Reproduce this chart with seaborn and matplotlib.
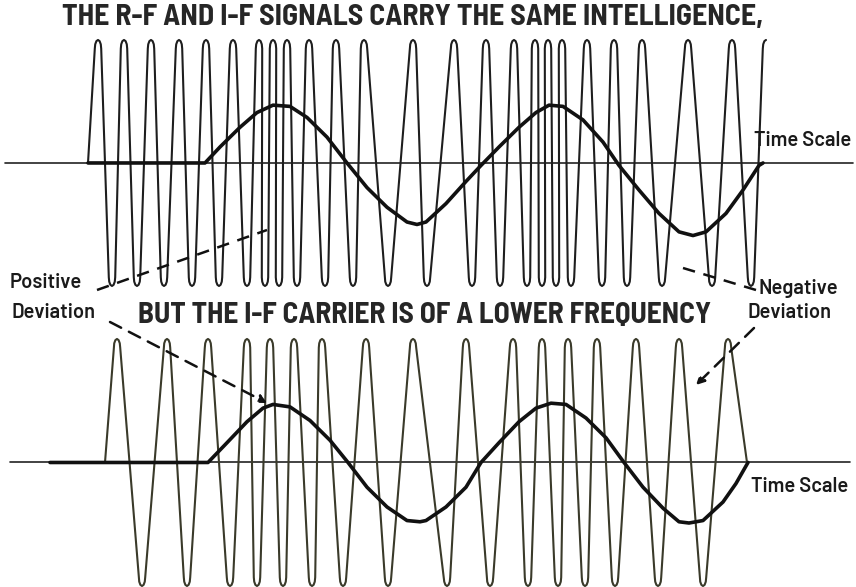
import numpy as np
import pandas as pd
import seaborn as sns
import matplotlib.pyplot as plt

# r-f carrier (top): times of the crests and troughs
rf_start = 88
rf_crests = [98, 124, 151, 179, 206, 233, 259, 273, 287, 309, 336, 364, 413,
             454, 486, 514, 535, 548, 562, 587, 614, 642, 688, 732, 766]
rf_troughs = [112, 137, 164, 192, 219, 247, 265, 279, 297, 325, 353, 388,
              427, 472, 500, 527, 542, 556, 571, 602, 627, 662, 712, 751]

# i-f carrier (bottom): fewer cycles, same modulation
if_start, if_end = 105, 747
if_crests = [117, 167, 208, 247, 270, 294, 322, 366, 413, 466, 513, 542,
             568, 597, 636, 679, 728]
if_troughs = [142, 187, 230, 257, 283, 312, 343, 388, 447, 490, 528, 558,
              585, 615, 658, 703]

# modulating signal (intelligence), level relative to carrier amplitude
rf_mod_t = [88, 205, 220, 240, 257, 273, 290, 307, 327, 347, 367, 387, 407,
            417, 426, 446, 466, 481, 499, 519, 536, 549, 563, 583, 603, 619,
            639, 659, 679, 693, 706, 726, 743, 759, 763]
rf_mod_y = [0, 0, 0.13, 0.29, 0.41, 0.47, 0.46, 0.37, 0.21, 0, -0.20, -0.36,
            -0.48, -0.50, -0.48, -0.33, -0.15, -0.02, 0.13, 0.29, 0.41, 0.47,
            0.46, 0.35, 0.17, -0.02, -0.22, -0.41, -0.56, -0.59, -0.56, -0.41,
            -0.22, -0.02, 0]
if_mod_t = [50, 208, 227, 247, 263, 273, 290, 310, 330, 348, 367, 387, 407,
            420, 426, 446, 466, 481, 499, 519, 536, 551, 566, 586, 606, 624,
            643, 663, 679, 689, 703, 723, 736, 748]
if_mod_y = [0, 0, 0.16, 0.33, 0.44, 0.47, 0.45, 0.34, 0.18, 0, -0.20, -0.36,
            -0.47, -0.48, -0.47, -0.36, -0.20, 0, 0.16, 0.33, 0.44, 0.48, 0.47,
            0.36, 0.20, 0, -0.20, -0.37, -0.48, -0.49, -0.47, -0.32, -0.17, 0]

# the drawn carrier has small round tips instead of sharp spikes
TIP_W, TIP_H = 3.2, 0.07
_phi = np.linspace(0, np.pi, 7)


def carrier(start, crests, troughs, end=None):
    # alternate crest / trough, each vertex drawn as a little rounded cap
    pts = []
    for i, c in enumerate(crests):
        pts.append((c, 1))
        if i < len(troughs):
            pts.append((troughs[i], -1))
    t, y = [start], [0]
    for k, (c, s) in enumerate(pts):
        last = end is None and k == len(pts) - 1
        ph = _phi[:4] if last else _phi
        t.extend(c - TIP_W * np.cos(ph))
        y.extend(s * (1 - TIP_H * (1 - np.sin(ph))))
    if end is not None:
        t.append(end)
        y.append(0)
    return pd.DataFrame({'t': t, 'y': y})


sns.set_style('white')
W, H = 856, 587
fig = plt.figure(figsize=(W / 100, H / 100), dpi=100)

ax_rf = fig.add_axes([0, 1 - 300 / H, 1, 270 / H])
ax_if = fig.add_axes([0, 0, 1, 262 / H])
ax_rf.set_ylim(-1.114, 1.081)
ax_if.set_ylim(-1.008, 1.113)

panels = [
    (ax_rf, carrier(rf_start, rf_crests, rf_troughs), rf_mod_t, rf_mod_y, '#1e1e1e', (5, 853)),
    (ax_if, carrier(if_start, if_crests, if_troughs, if_end), if_mod_t, if_mod_y, '#3a3a2a', (10, 850)),
]
for ax, car, mt, my, col, (x0, x1) in panels:
    ax.set_xlim(0, W)
    ax.axhline(0, xmin=x0 / W, xmax=x1 / W, color='#222222', lw=1.2, zorder=1)
    sns.lineplot(data=car, x='t', y='y', sort=False, estimator=None, ax=ax,
                 color=col, lw=1.5, zorder=2)
    sns.lineplot(x=mt, y=my, sort=False, estimator=None, ax=ax,
                 color='#111111', lw=2.6, zorder=3)
    ax.axis('off')

# overlay for the lettering and the pointer lines (pixel layout)
lay = fig.add_axes([0, 0, 1, 1], zorder=5)
lay.set_xlim(0, W)
lay.set_ylim(H, 0)
lay.axis('off')
lay.patch.set_alpha(0)

head_font = ['Barlow Semi Condensed', 'Lato', 'DejaVu Sans']
lab_font = ['Barlow', 'Barlow Semi Condensed', 'Lato', 'DejaVu Sans']

t1 = lay.text(413, 18, 'THE R-F AND I-F SIGNALS CARRY THE SAME INTELLIGENCE,',
              ha='center', va='center', fontsize=18, fontweight='bold', family=head_font)
t2 = lay.text(425, 315, 'BUT THE I-F CARRIER IS OF A LOWER FREQUENCY',
              ha='center', va='center', fontsize=18, fontweight='bold', family=head_font)

fig.canvas.draw()
r = fig.canvas.get_renderer()
for txt, w in [(t1, 700), (t2, 575)]:
    bb = txt.get_window_extent(r)
    txt.set_fontsize(txt.get_fontsize() * w / bb.width)

labels = [
    (10, 282, 'Positive'), (12, 313, 'Deviation'),
    (759, 289, 'Negative'), (748, 313, 'Deviation'),
    (754, 140, 'Time Scale'), (751, 486, 'Time Scale'),
]
for x, y, s in labels:
    lay.text(x, y, s, ha='left', va='center', fontsize=14.5, fontweight='semibold',
             family=lab_font, color='#1a1a1a')

dash = (0, (5, 3.5))
lay.plot([97, 267], [290, 230], color='#111111', lw=1.8, ls=dash)
lay.plot([683, 756], [268, 290], color='#111111', lw=1.8, ls=dash)
lay.annotate('', xy=(267, 403), xytext=(110, 322),
             arrowprops=dict(arrowstyle='-|>', color='#111111', lw=1.8, ls=dash,
                             mutation_scale=12, shrinkA=0, shrinkB=0))
lay.annotate('', xy=(696, 385), xytext=(754, 328),
             arrowprops=dict(arrowstyle='-|>', color='#111111', lw=1.8, ls=dash,
                             mutation_scale=12, shrinkA=0, shrinkB=0))

plt.savefig('out.png', dpi=100)
